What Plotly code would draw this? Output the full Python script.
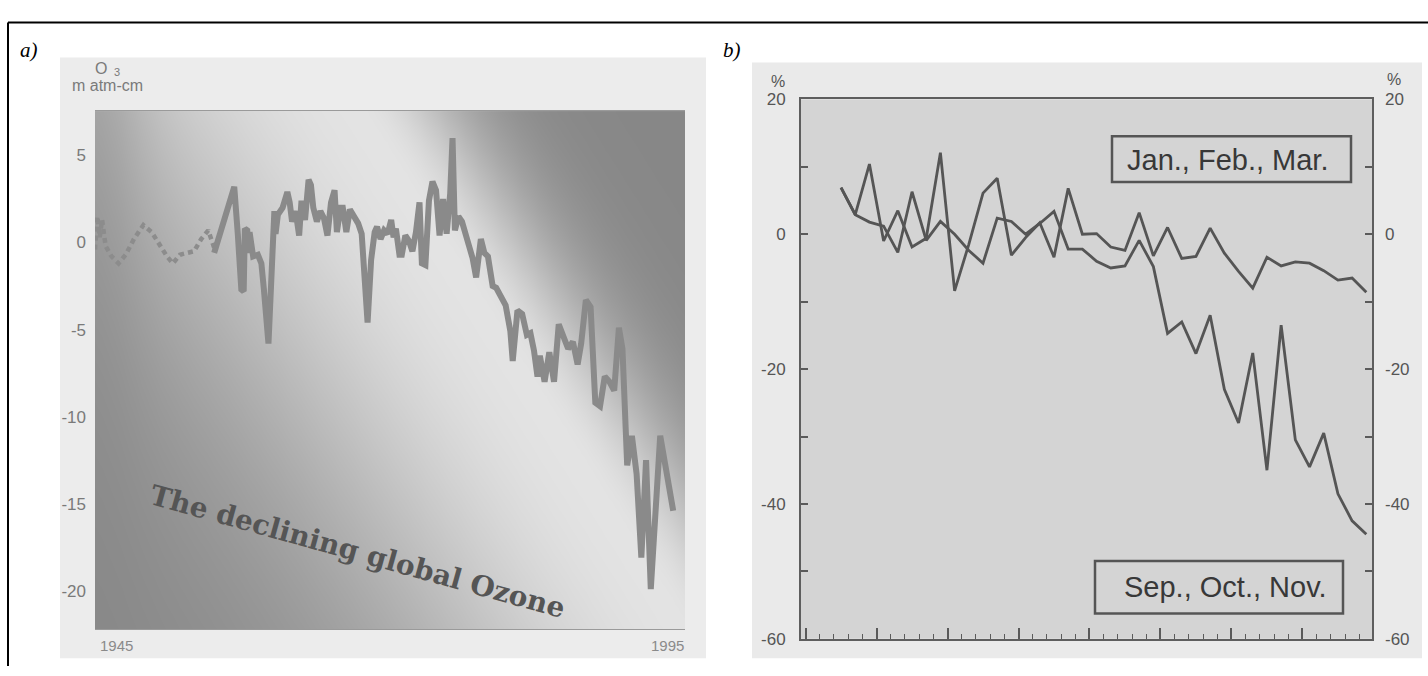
import numpy as np
import plotly.graph_objects as go

W, H = 1428, 676

# ---------------- Panel a data (m atm-cm deviation) ----------------
dot_years = [1945.0, 1945.2, 1945.4, 1945.6, 1945.9, 1946.4, 1947.0, 1947.6, 1948.3, 1949.1,
             1949.8, 1950.5, 1951.1, 1951.6, 1952.2, 1952.8, 1953.4, 1954.0, 1954.6, 1955.1]
dot_vals = [-0.4, 1.5, 0.3, 1.3, -0.2, -0.8, -1.2, -0.7, 0.2, 1.0,
            0.6, -0.2, -0.8, -1.2, -0.7, -0.6, -0.5, 0.2, 0.7, -0.3]

ozone_years = [1955.1, 1955.6, 1956.1, 1956.8, 1957.1, 1957.4, 1957.6, 1957.7, 1957.9, 1958.0,
               1958.1, 1958.4, 1958.8, 1959.1, 1959.3, 1959.7, 1960.2, 1960.3, 1960.5, 1960.9,
               1961.3, 1961.5, 1961.7, 1962.0, 1962.3, 1962.5, 1962.8, 1963.1, 1963.3, 1963.5,
               1963.8, 1964.1, 1964.4, 1964.7, 1965.0, 1965.3, 1965.5, 1965.8, 1966.0, 1966.3,
               1966.6, 1966.9, 1967.3, 1967.6, 1967.9, 1968.1, 1968.4, 1968.7, 1968.9, 1969.2,
               1969.5, 1969.8, 1970.1, 1970.3, 1970.5, 1970.8, 1971.0, 1971.3, 1971.6, 1971.9,
               1972.2, 1972.5, 1972.7, 1973.0, 1973.3, 1973.6, 1973.9, 1974.2, 1974.5, 1974.8,
               1975.1, 1975.3, 1975.5, 1975.8, 1976.1, 1976.4, 1976.7, 1977.0, 1977.3, 1977.7,
               1978.0, 1978.3, 1978.7, 1979.0, 1979.4, 1979.8, 1980.2, 1980.4, 1980.8, 1981.2,
               1981.6, 1981.9, 1982.2, 1982.5, 1982.7, 1983.1, 1983.5, 1983.9, 1984.3, 1984.7,
               1985.1, 1985.5, 1985.9, 1986.2, 1986.6, 1987.0, 1987.4, 1987.8, 1988.2, 1988.6,
               1989.0, 1989.4, 1989.7, 1990.1, 1990.5, 1990.9, 1991.3, 1991.7, 1992.1, 1992.9,
               1994.0]
ozone_vals = [-0.6, 0.6, 1.8, 3.2, 0.5, -2.7, -2.8, 0.8, 0.7, -0.6,
              0.6, -0.8, -0.7, -1.2, -2.6, -5.8, 1.8, 0.5, 1.6, 2.0,
              2.9, 2.3, 1.2, 1.8, 0.4, 2.4, 1.3, 3.6, 3.3, 2.0,
              1.2, 1.8, 1.4, 0.4, 2.3, 3.0, 0.6, 2.0, 2.0, 0.6,
              1.9, 1.5, 1.1, 0.5, -2.5, -4.6, -1.0, 0.6, 0.9, 0.2,
              0.7, 0.5, 1.3, 0.3, 0.8, -0.7, -0.7, 0.4, 0.1, -0.5,
              0.6, 2.3, -1.2, -1.3, 2.4, 3.5, 3.0, 0.4, 2.5, 0.5,
              2.8, 6.0, 0.7, 1.5, 1.2, 0.6, -0.2, -0.9, -2.0, 0.2,
              -0.6, -0.8, -2.5, -2.6, -3.2, -3.6, -5.1, -6.8, -3.9, -4.1,
              -5.3, -5.2, -6.2, -7.7, -6.5, -8.0, -6.3, -8.0, -4.7, -5.3,
              -6.1, -5.7, -7.0, -5.8, -3.3, -3.7, -9.2, -9.4, -7.7, -8.0,
              -8.5, -4.9, -6.1, -12.8, -11.1, -13.3, -18.1, -12.5, -19.9, -11.1,
              -15.4]
a_yticks = [5, 0, -5, -10, -15, -20]
a_yticktext = ["5", "0", "-5", "-10", "-15", "-20"]

# ---------------- Panel b data (% change) ----------------
years_b = list(range(1958, 1996))
jfm = [6.9, 2.9, 10.4, -1.0, 3.5, -1.9, -0.6, 12.1, -8.4, -1.5,
       6.1, 8.3, -3.1, -0.5, 1.7, -3.4, 6.8, 0.0, 0.1, -1.9,
       -2.4, 3.2, -3.2, 1.0, -3.6, -3.3, 0.9, -2.8, -5.5, -8.0,
       -3.4, -4.7, -4.1, -4.3, -5.4, -6.8, -6.5, -8.6]
son = [6.9, 2.9, 1.8, 1.2, -2.7, 6.3, -0.9, 1.9, 0.0, -2.4,
       -4.3, 2.4, 1.9, 0.0, 1.6, 3.4, -2.2, -2.2, -4.0, -5.0,
       -4.7, -0.9, -4.8, -14.7, -13.0, -17.7, -12.0, -23.0, -28.0, -17.6,
       -35.0, -13.5, -30.5, -34.5, -29.5, -38.5, -42.5, -44.5]
b_yticks = [20, 0, -20, -40, -60]
b_yticktext = ["20", "0", "-20", "-40", "-60"]


def px(x):
    return x / W


def py(y):
    return 1 - y / H


fig = go.Figure()

# ---- Panel a background gradient (decorative shading) ----
A_XR = [1945, 1995]
A_YR = [-22.2, 7.55]
gx = np.linspace(A_XR[0], A_XR[1], 90)
gy = np.linspace(A_YR[0], A_YR[1], 70)
U, Wn = np.meshgrid((gx - A_XR[0]) / (A_XR[1] - A_XR[0]), (gy - A_YR[0]) / (A_YR[1] - A_YR[0]))
d = (U - 0.45) * 0.876 + (Wn - 1.0) * 0.482
shade = np.where(d > 0, np.exp(-(d / 0.16) ** 2), np.exp(-(d / 0.46) ** 2))
edge = 1 - 0.35 * np.exp(-(U / 0.08) ** 2)
zbg = 0.53 + 0.36 * shade * edge
fig.add_trace(go.Heatmap(x=gx, y=gy, z=zbg, zmin=0, zmax=1, zsmooth="best",
                         colorscale=[[0, "rgb(0,0,0)"], [1, "rgb(255,255,255)"]],
                         showscale=False, hoverinfo="skip", xaxis="x", yaxis="y"))

fig.add_trace(go.Scatter(x=dot_years, y=dot_vals, mode="lines",
                         line=dict(color="#8c8c8c", width=4.5, dash="5px,4px"),
                         xaxis="x", yaxis="y", hoverinfo="skip", showlegend=False))
fig.add_trace(go.Scatter(x=ozone_years, y=ozone_vals, mode="lines",
                         line=dict(color="#8a8a8a", width=6),
                         xaxis="x", yaxis="y", showlegend=False))

# ---- Panel b lines ----
fig.add_trace(go.Scatter(x=years_b, y=jfm, mode="lines", name="Jan., Feb., Mar.",
                         line=dict(color="#555555", width=2.8), xaxis="x2", yaxis="y2", showlegend=False))
fig.add_trace(go.Scatter(x=years_b, y=son, mode="lines", name="Sep., Oct., Nov.",
                         line=dict(color="#555555", width=2.8), xaxis="x2", yaxis="y3", showlegend=False))

narrow = "Liberation Sans Narrow, Arial Narrow, Liberation Sans, Arial, sans-serif"
sans = "Liberation Sans, Arial, Helvetica, sans-serif"

A_LEFT, A_RIGHT, A_TOP, A_BOT = 95, 685, 105, 638
B_LEFT, B_RIGHT, B_TOP, B_BOT = 801, 1372, 93, 648

tickc = "#5a5a5a"
fig.update_layout(
    width=W, height=H, margin=dict(l=0, r=0, t=0, b=0),
    paper_bgcolor="white", plot_bgcolor="#d2d2d2", showlegend=False,
    xaxis=dict(domain=[px(A_LEFT), px(A_RIGHT)], range=A_XR, showgrid=False, zeroline=False,
               showticklabels=False, ticks="", showline=True, linecolor="#9a9a9a", linewidth=1,
               mirror=True, anchor="y"),
    yaxis=dict(domain=[py(A_BOT), py(A_TOP)], range=A_YR, showgrid=False, zeroline=False,
               tickvals=a_yticks, ticktext=a_yticktext, ticks="", showline=False, anchor="x",
               ticklabelstandoff=8, tickfont=dict(family=narrow, size=17, color="#7a7a7a")),
    xaxis2=dict(domain=[px(B_LEFT), px(B_RIGHT)], range=[1955.18, 1995.4], anchor="y2",
                showgrid=False, zeroline=False, showticklabels=False, ticks="inside",
                tick0=1955.5, dtick=5, ticklen=11, tickwidth=1.5, tickcolor=tickc,
                minor=dict(ticks="inside", dtick=1, tick0=1955.5, ticklen=5, tickwidth=1.2,
                           tickcolor=tickc),
                showline=True, linecolor="#5e5e5e", linewidth=2, mirror=True),
    yaxis2=dict(domain=[py(B_BOT), py(B_TOP)], range=[-60, 20], anchor="x2", showgrid=False,
                zeroline=False, tickvals=b_yticks, ticktext=b_yticktext, ticks="inside", ticklen=7,
                tickwidth=1.5, tickcolor=tickc,
                minor=dict(ticks="inside", dtick=10, tick0=0, ticklen=7, tickwidth=1.5,
                           tickcolor=tickc),
                showline=True, linecolor="#5e5e5e", linewidth=2, mirror=True,
                ticklabelstandoff=10, tickfont=dict(family=sans, size=17, color="#555555")),
    yaxis3=dict(domain=[py(B_BOT), py(B_TOP)], range=[-60, 20], anchor="x2", overlaying="y2",
                side="right", showgrid=False, zeroline=False, tickvals=b_yticks,
                ticktext=b_yticktext, ticks="inside", ticklen=7, tickwidth=1.5, tickcolor=tickc,
                minor=dict(ticks="inside", dtick=10, tick0=0, ticklen=7, tickwidth=1.5,
                           tickcolor=tickc),
                showline=False, ticklabelstandoff=12,
                tickfont=dict(family=sans, size=17, color="#555555")),
)

shapes = [
    # panel backgrounds (scanned grey)
    dict(type="rect", xref="paper", yref="paper", x0=px(60), x1=px(706), y0=py(668), y1=py(50),
         fillcolor="#ececec", line=dict(width=0), layer="below"),
    dict(type="rect", xref="paper", yref="paper", x0=px(752), x1=px(1422), y0=py(668), y1=py(55),
         fillcolor="#eaeaea", line=dict(width=0), layer="below"),
    # panel b plotting area tint
    dict(type="rect", xref="paper", yref="paper", x0=px(B_LEFT), x1=px(B_RIGHT), y0=py(B_BOT),
         y1=py(B_TOP), fillcolor="#d4d4d4", line=dict(width=0), layer="below"),
    # outer frame lines
    dict(type="line", xref="paper", yref="paper", x0=px(8), x1=px(1428), y0=py(14), y1=py(14),
         line=dict(color="black", width=2)),
    dict(type="line", xref="paper", yref="paper", x0=px(8), x1=px(8), y0=py(14), y1=py(676),
         line=dict(color="black", width=2)),
    # legend boxes in panel b
    dict(type="rect", xref="paper", yref="paper", x0=px(1112), x1=px(1351), y0=py(178), y1=py(131),
         line=dict(color="#555555", width=2.5), fillcolor="rgba(0,0,0,0)"),
    dict(type="rect", xref="paper", yref="paper", x0=px(1095), x1=px(1343), y0=py(622), y1=py(568),
         line=dict(color="#555555", width=2.5), fillcolor="rgba(0,0,0,0)"),
]
fig.update_layout(shapes=shapes)

ann = [
    dict(text="a)", x=px(18), y=py(42), xanchor="left", yanchor="middle",
         font=dict(family="Liberation Serif, Times New Roman, serif", size=21, color="black",
                   style="italic")),
    dict(text="b)", x=px(721), y=py(42), xanchor="left", yanchor="middle",
         font=dict(family="Liberation Serif, Times New Roman, serif", size=21, color="black",
                   style="italic")),
    dict(text="O", x=px(101), y=py(61), xanchor="center", yanchor="middle",
         font=dict(family=sans, size=16, color="#7a7a7a")),
    dict(text="3", x=px(117), y=py(65), xanchor="center", yanchor="middle",
         font=dict(family=sans, size=11, color="#7a7a7a")),
    dict(text="m atm-cm", x=px(108), y=py(79), xanchor="center", yanchor="middle",
         font=dict(family=sans, size=16, color="#7a7a7a")),
    dict(text="1945", x=px(98), y=py(655), xanchor="left", yanchor="middle",
         font=dict(family=narrow, size=15, color="#8a8a8a")),
    dict(text="1995", x=px(686), y=py(655), xanchor="right", yanchor="middle",
         font=dict(family=narrow, size=15, color="#8a8a8a")),
    dict(text="The declining global Ozone", x=px(357), y=py(558), xanchor="center",
         yanchor="middle", textangle=15.5,
         font=dict(family="DejaVu Serif, serif", size=28, color="#555555", weight="bold")),
    dict(text="%", x=px(778), y=py(75), xanchor="center", yanchor="middle",
         font=dict(family=sans, size=16, color="#555555")),
    dict(text="%", x=px(1394), y=py(73), xanchor="center", yanchor="middle",
         font=dict(family=sans, size=16, color="#555555")),
    dict(text="Jan., Feb., Mar.", x=px(1227), y=py(155), xanchor="center", yanchor="middle",
         font=dict(family=sans, size=29, color="#383838")),
    dict(text="Sep., Oct., Nov.", x=px(1225), y=py(595), xanchor="center", yanchor="middle",
         font=dict(family=sans, size=29, color="#383838")),
]
for a in ann:
    a.update(xref="paper", yref="paper", showarrow=False)
fig.update_layout(annotations=ann)

fig.write_html("out.html")
